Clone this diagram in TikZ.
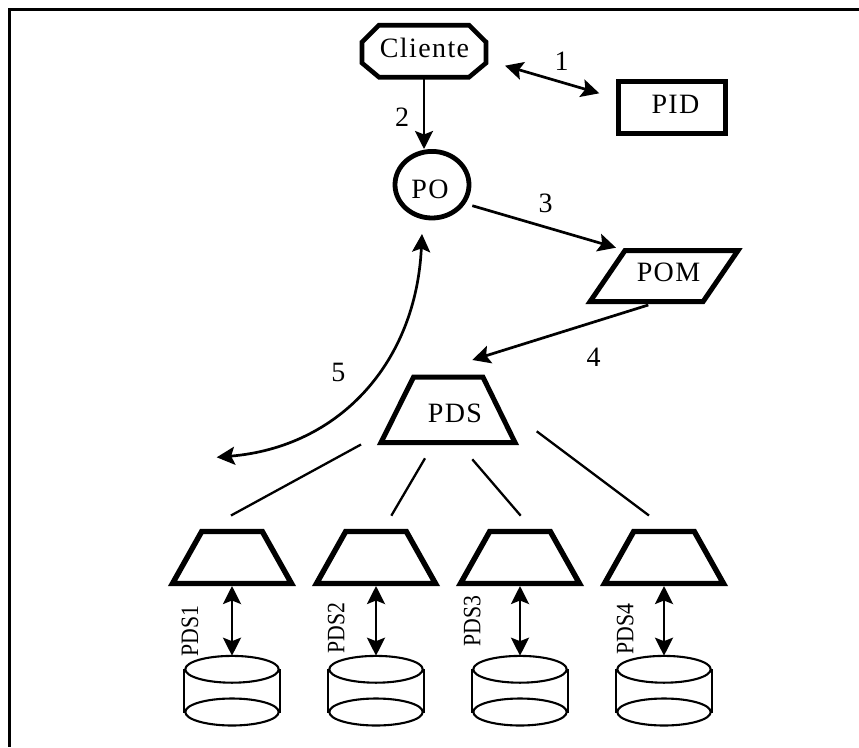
\documentclass[tikz,border=0pt]{standalone}
\usepackage{fontspec}
\setmainfont{Liberation Serif}
\usetikzlibrary{arrows.meta,shapes.geometric}
\tikzset{
  x=1pt,y=-1pt,
  frameline/.style={draw=black,line width=3pt,line cap=butt},
  thickline/.style={draw=black,line width=5pt,miter limit=10,line join=miter},
  wordlbl/.style={inner sep=0pt,anchor=base,font=\fontsize{28}{30}\selectfont\addfontfeatures{LetterSpace=5}},
  numlbl/.style={inner sep=0pt,anchor=base,font=\fontsize{28}{30}\selectfont},
  vlbl/.style={inner sep=0pt,anchor=base west,rotate=90,xscale=.87,font=\fontsize{25}{27}\selectfont},
  conn/.style={draw=black,line width=2.7pt},
  headone/.style={-{Stealth[length=18pt,width=18pt,inset=3.5pt]}},
  headtwo/.style={{Stealth[length=18pt,width=18pt,inset=3.5pt]}-{Stealth[length=18pt,width=18pt,inset=3.5pt]}},
  spoke/.style={draw=black,line width=2.3pt},
  drumring/.style={draw=black,line width=2.1pt,fill=white},
  drumside/.style={draw=black,line width=2.4pt}
}
\begin{document}
\begin{tikzpicture}
\useasboundingbox (0,0) rectangle (859,747);
\fill[white] (0,0) rectangle (859,747);
\draw[frameline] (859,9.5) -- (9.5,9.5) -- (9.5,747);
% upper shapes
\draw[thickline,line width=4.6pt] (362,42) -- (379,25.2) -- (469,25.2) -- (486,42) -- (486,63) -- (469,77.2) -- (379,77.2) -- (362,63) -- cycle;
\node[wordlbl] (cli) at (424.5,57.3) {Cliente};
\node[thickline,inner sep=0pt,minimum width=106.5pt,minimum height=52pt] (pid) at (671.75,107.5) {};
\node[wordlbl] (pidt) at (675.5,113.3) {PID};
\node[ellipse,thickline,line width=4.8pt,inner sep=0pt,minimum width=74pt,minimum height=66.6pt] (po) at (432,184.7) {};
\node[wordlbl] (pot) at (430,198) {PO};
\draw[thickline] (625,250.5) -- (738,250.5) -- (703,301.7) -- (590,301.7) -- cycle;
\node[wordlbl] (pomt) at (668.5,281.7) {POM};
\draw[thickline] (413.5,377.2) -- (483,377.2) -- (515,442.5) -- (381,442.5) -- cycle;
\node[wordlbl] (pdst) at (455,422.3) {PDS};
% lower trapezoids and drums
\foreach \cx/\n in {232/a,376/b,520/c,664/d}{
  \draw[thickline,line width=5.4pt] ({\cx-30.3},531.5) -- ({\cx+30.3},531.5) -- ({\cx+59.5},583.5) -- ({\cx-59.5},583.5) -- cycle;
  \coordinate (t\n) at (\cx,586);
  \coordinate (d\n) at (\cx,655.7);
  \draw[drumside] ({\cx-48.2},669) -- ({\cx-48.2},713);
  \draw[drumside] ({\cx+48.2},669) -- ({\cx+48.2},713);
  \draw[drumring] (\cx,712) ellipse [x radius=46.7,y radius=13.5];
  \draw[drumring] (\cx,669.3) ellipse [x radius=46.7,y radius=13.4];
  \draw[conn,headtwo] (t\n) -- (d\n);
}
\node[vlbl] (l1) at (198.2,656.5) {PDS1};
\node[vlbl] (l2) at (344.3,653.3) {PDS2};
\node[vlbl] (l3) at (480.3,646.7) {PDS3};
\node[vlbl] (l4) at (633.3,654.3) {PDS4};
% connector ends
\coordinate (a1) at (505,65.7);
\coordinate (a2) at (599.3,93.3);
\coordinate (b1) at (424,78);
\coordinate (b2) at (424,149);
\coordinate (c1) at (472.3,205.7);
\coordinate (c2) at (616,247.7);
\coordinate (e1) at (648.3,305);
\coordinate (e2) at (472.3,360);
\coordinate (f1) at (422,234);
\coordinate (f2) at (216.7,457.3);
\draw[conn,headtwo] (a1) -- (a2);
\draw[conn,headone] (b1) -- (b2);
\draw[conn,headone] (c1) -- (c2);
\draw[conn,headone] (e1) -- (e2);
\draw[conn,headtwo] (f1) .. controls (416,362) and (340,447) .. (f2);
% spokes
\coordinate (s1) at (361,444.5);
\coordinate (s2) at (425,458.3);
\coordinate (s3) at (472.3,459.3);
\coordinate (s4) at (536.7,431.3);
\coordinate (u1) at (231,515.5);
\coordinate (u2) at (391.3,515.7);
\coordinate (u3) at (520.7,515.7);
\coordinate (u4) at (649,515.5);
\draw[spoke] (s1) -- (u1);
\draw[spoke] (s2) -- (u2);
\draw[spoke] (s3) -- (u3);
\draw[spoke] (s4) -- (u4);
\node[numlbl] (n1) at (561.7,70.7) {1};
\node[numlbl] (n2) at (402,126.7) {2};
\node[numlbl] (n3) at (545.5,212) {3};
\node[numlbl] (n4) at (593.7,366.7) {4};
\node[numlbl] (n5) at (338.3,381.7) {5};
\end{tikzpicture}
\end{document}
